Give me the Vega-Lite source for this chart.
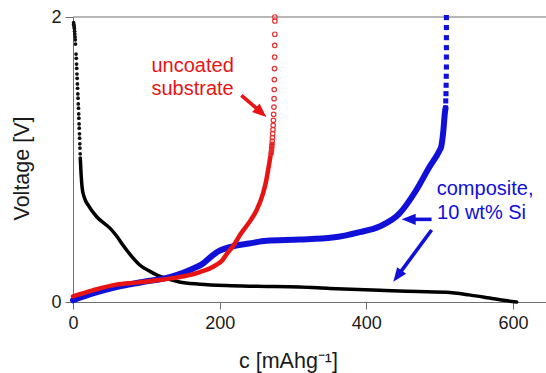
{
  "$schema": "https://vega.github.io/schema/vega-lite/v6.json",
  "width": 473,
  "height": 285,
  "autosize": {"type": "none"},
  "padding": {"left": 73, "top": 17, "right": 0, "bottom": 71},
  "background": "white",
  "config": {
    "view": {"stroke": null},
    "font": "Liberation Sans",
    "axis": {"grid": false, "domainColor": "#707070", "tickColor": "#707070", "labelColor": "#1a1a1a", "titleColor": "#1a1a1a", "labelFont": "Liberation Sans", "titleFont": "Liberation Sans", "titleFontWeight": "normal", "labelFontSize": 18, "titleFontSize": 21.5, "domainWidth": 1, "tickWidth": 1}
  },
  "datasets": {
    "curves": [
      {"s": "lith", "c": 10, "v": 1.0}, {"s": "lith", "c": 11, "v": 0.9}, {"s": "lith", "c": 12.5, "v": 0.8}, {"s": "lith", "c": 15, "v": 0.74}, {"s": "lith", "c": 22, "v": 0.67}, {"s": "lith", "c": 32, "v": 0.6}, {"s": "lith", "c": 50, "v": 0.52}, {"s": "lith", "c": 60, "v": 0.46}, {"s": "lith", "c": 68, "v": 0.4}, {"s": "lith", "c": 80, "v": 0.32}, {"s": "lith", "c": 91, "v": 0.26}, {"s": "lith", "c": 105, "v": 0.215}, {"s": "lith", "c": 114, "v": 0.19}, {"s": "lith", "c": 130, "v": 0.16}, {"s": "lith", "c": 145, "v": 0.14}, {"s": "lith", "c": 173, "v": 0.125}, {"s": "lith", "c": 210, "v": 0.115}, {"s": "lith", "c": 250, "v": 0.11}, {"s": "lith", "c": 309, "v": 0.105}, {"s": "lith", "c": 350, "v": 0.095}, {"s": "lith", "c": 418, "v": 0.082}, {"s": "lith", "c": 445, "v": 0.077}, {"s": "lith", "c": 509, "v": 0.068}, {"s": "lith", "c": 540, "v": 0.05}, {"s": "lith", "c": 568, "v": 0.028}, {"s": "lith", "c": 590, "v": 0.01}, {"s": "lith", "c": 605, "v": 0.0},
      {"s": "comp", "c": 0, "v": 0.012}, {"s": "comp", "c": 27, "v": 0.06}, {"s": "comp", "c": 59, "v": 0.105}, {"s": "comp", "c": 95, "v": 0.14}, {"s": "comp", "c": 132, "v": 0.175}, {"s": "comp", "c": 150, "v": 0.205}, {"s": "comp", "c": 164, "v": 0.235}, {"s": "comp", "c": 175, "v": 0.262}, {"s": "comp", "c": 191, "v": 0.33}, {"s": "comp", "c": 200, "v": 0.36}, {"s": "comp", "c": 218, "v": 0.39}, {"s": "comp", "c": 240, "v": 0.41}, {"s": "comp", "c": 264, "v": 0.43}, {"s": "comp", "c": 309, "v": 0.438}, {"s": "comp", "c": 354, "v": 0.452}, {"s": "comp", "c": 391, "v": 0.49}, {"s": "comp", "c": 418, "v": 0.53}, {"s": "comp", "c": 445, "v": 0.62}, {"s": "comp", "c": 468, "v": 0.784}, {"s": "comp", "c": 486, "v": 0.947}, {"s": "comp", "c": 500, "v": 1.065}, {"s": "comp", "c": 502, "v": 1.088}, {"s": "comp", "c": 505, "v": 1.2}, {"s": "comp", "c": 507, "v": 1.322}, {"s": "comp", "c": 508, "v": 1.361},
      {"s": "unc", "c": 0, "v": 0.04}, {"s": "unc", "c": 27, "v": 0.082}, {"s": "unc", "c": 59, "v": 0.122}, {"s": "unc", "c": 86, "v": 0.136}, {"s": "unc", "c": 114, "v": 0.152}, {"s": "unc", "c": 141, "v": 0.171}, {"s": "unc", "c": 160, "v": 0.19}, {"s": "unc", "c": 173, "v": 0.21}, {"s": "unc", "c": 186, "v": 0.234}, {"s": "unc", "c": 196, "v": 0.262}, {"s": "unc", "c": 204, "v": 0.295}, {"s": "unc", "c": 210, "v": 0.34}, {"s": "unc", "c": 218, "v": 0.39}, {"s": "unc", "c": 229, "v": 0.48}, {"s": "unc", "c": 243, "v": 0.58}, {"s": "unc", "c": 250, "v": 0.64}, {"s": "unc", "c": 259, "v": 0.76}, {"s": "unc", "c": 263, "v": 0.84}, {"s": "unc", "c": 266, "v": 0.924}, {"s": "unc", "c": 268.5, "v": 1.0}, {"s": "unc", "c": 270.5, "v": 1.065}, {"s": "unc", "c": 271.4, "v": 1.107}
    ],
    "markers": [
      {"s": "lith", "c": 0.8, "v": 1.96}, {"s": "lith", "c": 1.0, "v": 1.95}, {"s": "lith", "c": 1.3, "v": 1.94}, {"s": "lith", "c": 1.6, "v": 1.93}, {"s": "lith", "c": 1.9, "v": 1.92}, {"s": "lith", "c": 2.2, "v": 1.9}, {"s": "lith", "c": 2.5, "v": 1.88}, {"s": "lith", "c": 2.8, "v": 1.86}, {"s": "lith", "c": 3.1, "v": 1.84}, {"s": "lith", "c": 3.4, "v": 1.81}, {"s": "lith", "c": 4.2, "v": 1.74}, {"s": "lith", "c": 4.5, "v": 1.71}, {"s": "lith", "c": 4.8, "v": 1.67}, {"s": "lith", "c": 5.1, "v": 1.64}, {"s": "lith", "c": 5.4, "v": 1.6}, {"s": "lith", "c": 5.7, "v": 1.57}, {"s": "lith", "c": 6.0, "v": 1.53}, {"s": "lith", "c": 6.3, "v": 1.5}, {"s": "lith", "c": 6.6, "v": 1.46}, {"s": "lith", "c": 6.9, "v": 1.43}, {"s": "lith", "c": 7.2, "v": 1.39}, {"s": "lith", "c": 7.5, "v": 1.36}, {"s": "lith", "c": 7.8, "v": 1.32}, {"s": "lith", "c": 8.0, "v": 1.29}, {"s": "lith", "c": 8.3, "v": 1.25}, {"s": "lith", "c": 8.5, "v": 1.22}, {"s": "lith", "c": 8.8, "v": 1.18}, {"s": "lith", "c": 9.0, "v": 1.15}, {"s": "lith", "c": 9.3, "v": 1.11}, {"s": "lith", "c": 9.5, "v": 1.08}, {"s": "lith", "c": 9.8, "v": 1.04}, {"s": "lith", "c": 10.0, "v": 1.01},
      {"s": "comp", "c": 508, "v": 1.361}, {"s": "comp", "c": 508.3, "v": 1.411}, {"s": "comp", "c": 508.6, "v": 1.462}, {"s": "comp", "c": 508.8, "v": 1.521}, {"s": "comp", "c": 509, "v": 1.584}, {"s": "comp", "c": 509.2, "v": 1.649}, {"s": "comp", "c": 509.2, "v": 1.719}, {"s": "comp", "c": 509.2, "v": 1.785}, {"s": "comp", "c": 509.2, "v": 1.855}, {"s": "comp", "c": 509.2, "v": 1.926}, {"s": "comp", "c": 509.2, "v": 1.996},
      {"s": "unc", "c": 270.3, "v": 1.045}, {"s": "unc", "c": 270.7, "v": 1.065}, {"s": "unc", "c": 271, "v": 1.085}, {"s": "unc", "c": 271.4, "v": 1.107}, {"s": "unc", "c": 271.7, "v": 1.13}, {"s": "unc", "c": 272, "v": 1.154}, {"s": "unc", "c": 272.3, "v": 1.182}, {"s": "unc", "c": 272.7, "v": 1.21}, {"s": "unc", "c": 273, "v": 1.24}, {"s": "unc", "c": 273.3, "v": 1.275}, {"s": "unc", "c": 273.6, "v": 1.317}, {"s": "unc", "c": 274, "v": 1.368}, {"s": "unc", "c": 274.2, "v": 1.427}, {"s": "unc", "c": 274.4, "v": 1.491}, {"s": "unc", "c": 274.6, "v": 1.561}, {"s": "unc", "c": 274.8, "v": 1.638}, {"s": "unc", "c": 275, "v": 1.719}, {"s": "unc", "c": 275.1, "v": 1.801}, {"s": "unc", "c": 275.2, "v": 1.879}, {"s": "unc", "c": 275.3, "v": 1.972}, {"s": "unc", "c": 275.3, "v": 2.0}
    ],
    "arrows": [
      {"id": "a1", "s": "uncoated", "c": 229.6, "v": 1.45, "ce": 255.6, "ve": 1.335, "ct": 263.7, "vt": 1.298},
      {"id": "a2", "s": "composite", "c": 489, "v": 0.58, "ce": 459.2, "ve": 0.58, "ct": 448.2, "vt": 0.58},
      {"id": "a3", "s": "composite", "c": 489, "v": 0.505, "ce": 443.3, "ve": 0.187, "ct": 436.8, "vt": 0.142}
    ],
    "labels": [
      {"s": "uncoated", "c": 107, "v": 1.614, "t": "uncoated"},
      {"s": "uncoated", "c": 107, "v": 1.45, "t": "substrate"},
      {"s": "composite", "c": 496, "v": 0.749, "t": "composite,"},
      {"s": "composite", "c": 496.5, "v": 0.585, "t": "10 wt% Si"}
    ],
    "frame": [{"c": 0, "v": 2}, {"c": 645, "v": 2}]
  },
  "encoding": {
    "x": {"field": "c", "type": "quantitative", "scale": {"domain": [0, 645], "nice": false, "zero": false}, "axis": {"values": [0, 200, 400, 600], "format": "d", "title": "c [mAhg⁻¹]", "tickSize": 7, "labelPadding": 5, "labelFlush": false, "titleX": 215, "titleY": 65, "titleAlign": "center", "titleBaseline": "alphabetic"}},
    "y": {"field": "v", "type": "quantitative", "scale": {"domain": [0, 2], "nice": false}, "axis": {"values": [0, 1, 2], "format": "d", "title": "Voltage [V]", "tickSize": 8, "labelPadding": 4, "titleAngle": -90, "titleX": -44.3, "titleY": 151, "titleAlign": "center", "titleBaseline": "alphabetic"}}
  },
  "layer": [
    {
      "data": {"name": "frame"},
      "mark": {"type": "line", "color": "#707070", "strokeWidth": 1.2}
    },
    {
      "data": {"name": "curves"},
      "transform": [{"filter": "datum.s === 'lith'"}],
      "mark": {"type": "line", "color": "#000000", "strokeWidth": 3.5, "strokeCap": "round", "strokeJoin": "round", "interpolate": "monotone"}
    },
    {
      "data": {"name": "markers"},
      "transform": [{"filter": "datum.s === 'lith'"}],
      "mark": {"type": "point", "shape": "circle", "filled": true, "color": "#111111", "size": 14, "opacity": 1}
    },
    {
      "data": {"name": "curves"},
      "transform": [{"filter": "datum.s === 'comp'"}],
      "mark": {"type": "line", "color": "#1010d8", "strokeWidth": 6, "strokeCap": "round", "strokeJoin": "round", "interpolate": "monotone"}
    },
    {
      "data": {"name": "markers"},
      "transform": [{"filter": "datum.s === 'comp'"}],
      "mark": {"type": "point", "shape": "square", "filled": true, "color": "#1010d8", "size": 26, "opacity": 1}
    },
    {
      "data": {"name": "curves"},
      "transform": [{"filter": "datum.s === 'unc'"}],
      "mark": {"type": "line", "color": "#e81414", "strokeWidth": 4.5, "strokeCap": "round", "strokeJoin": "round", "interpolate": "monotone"}
    },
    {
      "data": {"name": "markers"},
      "transform": [{"filter": "datum.s === 'unc'"}],
      "mark": {"type": "point", "shape": "circle", "filled": false, "color": "#e83030", "size": 20, "strokeWidth": 1.2, "opacity": 1}
    },
    {
      "data": {"name": "arrows"},
      "mark": {"type": "rule", "strokeWidth": 3.6},
      "encoding": {
        "x2": {"field": "ce"}, "y2": {"field": "ve"},
        "color": {"field": "s", "type": "nominal", "scale": {"domain": ["uncoated", "composite"], "range": ["#e81414", "#1010d8"]}, "legend": null}
      }
    },
    {
      "data": {"name": "arrows"},
      "transform": [{"filter": "datum.id === 'a1'"}],
      "mark": {"type": "point", "shape": "M0,0L-0.8,2L0.8,2Z", "filled": true, "size": 196, "angle": 131, "opacity": 1},
      "encoding": {"x": {"field": "ct", "type": "quantitative"}, "y": {"field": "vt", "type": "quantitative"}, "color": {"field": "s", "type": "nominal", "legend": null}}
    },
    {
      "data": {"name": "arrows"},
      "transform": [{"filter": "datum.id === 'a2'"}],
      "mark": {"type": "point", "shape": "M0,0L-0.8,2L0.8,2Z", "filled": true, "size": 196, "angle": 270, "opacity": 1},
      "encoding": {"x": {"field": "ct", "type": "quantitative"}, "y": {"field": "vt", "type": "quantitative"}, "color": {"field": "s", "type": "nominal", "legend": null}}
    },
    {
      "data": {"name": "arrows"},
      "transform": [{"filter": "datum.id === 'a3'"}],
      "mark": {"type": "point", "shape": "M0,0L-0.8,2L0.8,2Z", "filled": true, "size": 196, "angle": 216.6, "opacity": 1},
      "encoding": {"x": {"field": "ct", "type": "quantitative"}, "y": {"field": "vt", "type": "quantitative"}, "color": {"field": "s", "type": "nominal", "legend": null}}
    },
    {
      "data": {"name": "labels"},
      "mark": {"type": "text", "align": "left", "baseline": "alphabetic", "fontSize": 20, "font": "Liberation Sans"},
      "encoding": {"text": {"field": "t"}, "color": {"field": "s", "type": "nominal", "legend": null}}
    }
  ]
}
